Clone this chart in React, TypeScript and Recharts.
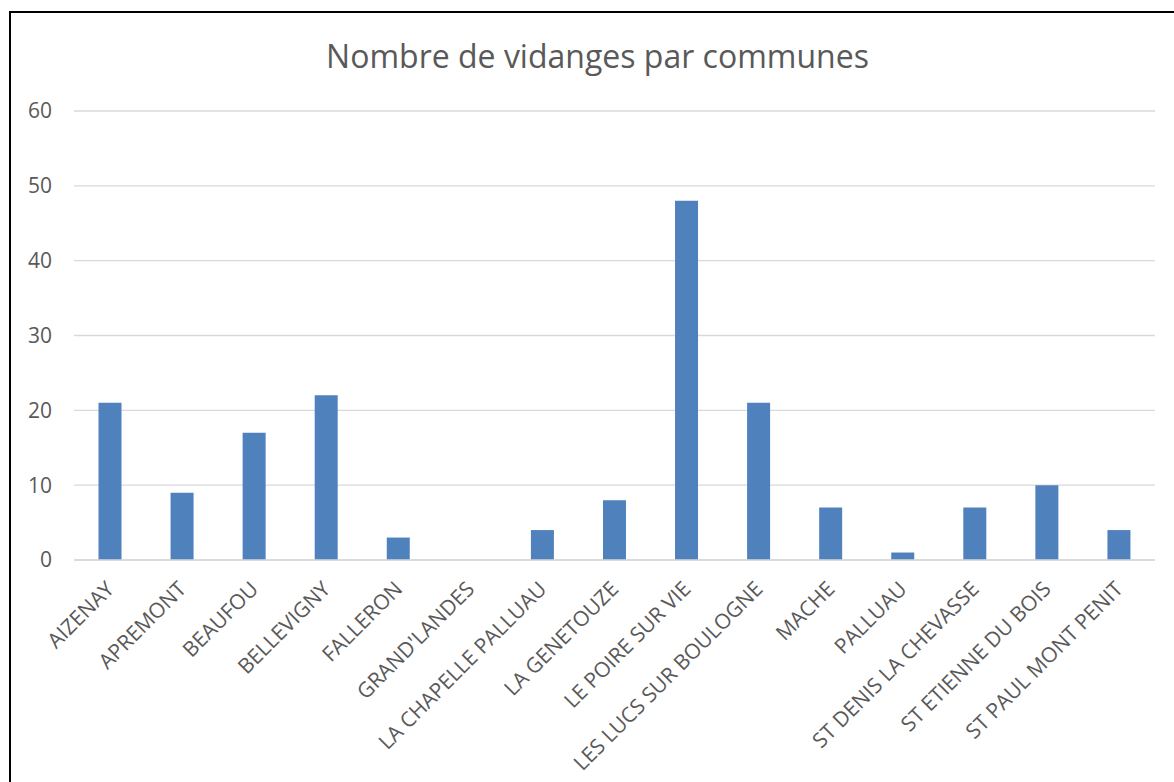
import React from "react";
import { BarChart, Bar, XAxis, YAxis, CartesianGrid } from "recharts";

const communes = [
  "AIZENAY",
  "APREMONT",
  "BEAUFOU",
  "BELLEVIGNY",
  "FALLERON",
  "GRAND'LANDES",
  "LA CHAPELLE PALLUAU",
  "LA GENETOUZE",
  "LE POIRE SUR VIE",
  "LES LUCS SUR BOULOGNE",
  "MACHE",
  "PALLUAU",
  "ST DENIS LA CHEVASSE",
  "ST ETIENNE DU BOIS",
  "ST PAUL MONT PENIT",
];
const vidanges = [21, 9, 17, 22, 3, 0, 4, 8, 48, 21, 7, 1, 7, 10, 4];
const yTicks = [0, 10, 20, 30, 40, 50, 60];
const title = "Nombre de vidanges par communes";

const data = communes.map((c, i) => ({ commune: c, value: vidanges[i] }));

const FONT = "'Open Sans', sans-serif";
const TEXT_COLOR = "#595959";

const XTick = (props: any) => {
  const { x, y, payload } = props;
  const ay = y + 17;
  return (
    <text
      x={x}
      y={ay}
      dy="0.36em"
      textAnchor="end"
      transform={`rotate(-45, ${x}, ${ay})`}
      fill={TEXT_COLOR}
      fontSize={21}
      fontFamily={FONT}
    >
      {payload.value}
    </text>
  );
};

export default function App() {
  return (
    <div
      style={{
        position: "fixed",
        left: 0,
        top: 0,
        width: 1174,
        height: 782,
        overflow: "hidden",
        background: "#fff",
      }}
    >
      <div
        style={{
          position: "absolute",
          left: 9,
          top: 11,
          width: 1200,
          height: 820,
          border: "2px solid #000",
          boxSizing: "border-box",
        }}
      />
      <div
        style={{
          position: "absolute",
          left: 0,
          top: 35,
          width: 1195,
          textAlign: "center",
          fontFamily: FONT,
          fontSize: 32,
          lineHeight: "42px",
          color: TEXT_COLOR,
        }}
      >
        {title}
      </div>
      <div style={{ position: "absolute", left: 0, top: 0 }}>
        <BarChart
          width={1174}
          height={782}
          data={data}
          margin={{ top: 111, right: 19, bottom: 22, left: 0 }}
          barCategoryGap="34%"
        >
          <CartesianGrid vertical={false} stroke="#d9d9d9" strokeWidth={1.3} />
          <XAxis
            dataKey="commune"
            interval={0}
            height={200}
            tick={<XTick />}
            tickLine={false}
            axisLine={{ stroke: "#d9d9d9", strokeWidth: 1.3 }}
          />
          <YAxis
            width={74}
            domain={[0, 60]}
            ticks={yTicks}
            tickLine={false}
            axisLine={false}
            tickMargin={16}
            tick={{ fill: TEXT_COLOR, fontSize: 21, fontFamily: FONT }}
          />
          <Bar dataKey="value" fill="#4F81BD" isAnimationActive={false} />
        </BarChart>
      </div>
    </div>
  );
}
